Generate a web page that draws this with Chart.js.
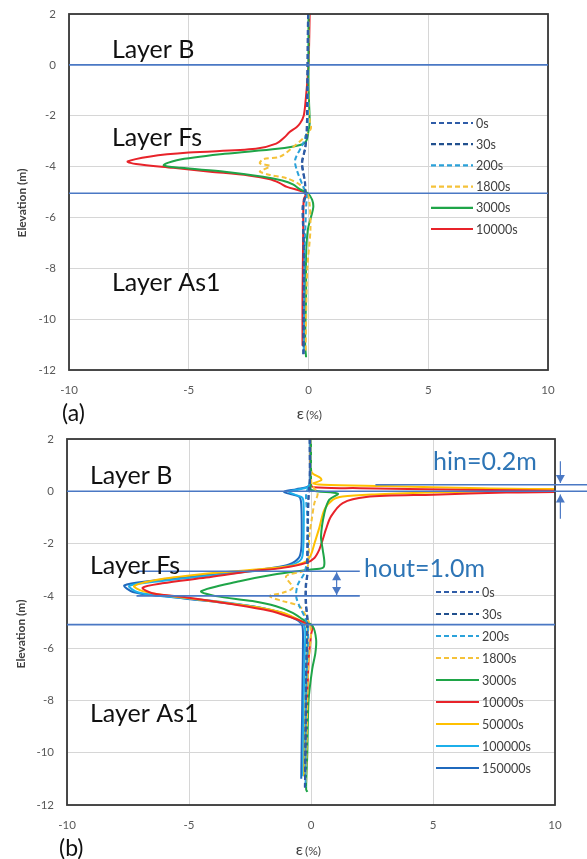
<!DOCTYPE html>
<html><head><meta charset="utf-8">
<script src="https://cdn.jsdelivr.net/npm/chart.js@4.4.1/dist/chart.umd.min.js"></script>
<style>
html,body{margin:0;padding:0;background:#fff;width:587px;height:859px;overflow:hidden}
.p{position:absolute;left:0}
canvas{display:block}
</style></head><body>
<div class="p" style="top:0"><canvas id="ca" width="587" height="430" style="width:587px;height:430px"></canvas></div>
<div class="p" style="top:430px"><canvas id="cb" width="587" height="429" style="width:587px;height:429px"></canvas></div>
<script>
// ---------- DATA ----------
const xTicks = [-10, -5, 0, 5, 10];
const yTicks = [2, 0, -2, -4, -6, -8, -10, -12];
const labelsA = ['0s', '30s', '200s', '1800s', '3000s', '10000s'];
const labelsB = ['0s', '30s', '200s', '1800s', '3000s', '10000s', '50000s', '100000s', '150000s'];
const layerNames = ['Layer B', 'Layer Fs', 'Layer As1'];
const boundsA = [0, -5.05];
const boundsB = [0, -5.1];
const hinLevels = [0.25, 0];
const houtLevels = [-3.06, -4.0];

// panel (a): [strain %, elevation m]
const a0 = [[-0.02,2],[-0.05,-1],[-0.08,-2.8],[-0.15,-3.3],[-0.28,-3.87],[-0.15,-4.65],[-0.15,-5.2],[-0.25,-5.6],[-0.2,-7],[-0.2,-9],[-0.2,-11.4]];
const a30 = [[-0.02,2],[-0.05,-1],[-0.08,-2.8],[-0.14,-3.3],[-0.26,-3.87],[-0.14,-4.65],[-0.14,-5.2],[-0.22,-5.6],[-0.2,-7],[-0.2,-9],[-0.22,-11.4]];
const a200 = [[0,2],[-0.02,-1],[-0.05,-2.5],[-0.22,-3.08],[-0.56,-3.74],[-0.49,-4.13],[-0.22,-4.79],[-0.08,-5.1],[-0.1,-5.6],[-0.15,-7],[-0.18,-9],[-0.2,-11.3]];
const a1800 = [[0,2],[0,-1.5],[0.05,-2.2],[0.1,-2.5],[-0.15,-2.82],[-0.7,-3.28],[-1.19,-3.61],[-1.89,-3.71],[-2.03,-3.87],[-1.61,-3.98],[-1.89,-4.13],[-2.03,-4.2],[-1.61,-4.33],[-0.91,-4.46],[-0.35,-4.72],[-0.05,-5.05],[0.05,-5.5],[0.08,-6.5],[-0.05,-8],[-0.1,-10],[-0.12,-11.3]];
const a3000 = [[0,2],[0,-0.6],[0.02,-1.4],[0.05,-2.3],[0,-2.6],[-0.1,-3.0],[-0.35,-3.15],[-1.3,-3.3],[-3.5,-3.5],[-5.5,-3.75],[-6.05,-3.95],[-5.35,-4.05],[-3.5,-4.2],[-1.9,-4.4],[-1.1,-4.55],[-0.65,-4.7],[-0.35,-4.9],[-0.03,-5.05],[0.15,-5.3],[0.2,-5.6],[0.1,-6.0],[-0.03,-6.5],[-0.1,-7.5],[-0.1,-9],[-0.14,-11],[-0.1,-11.5]];
const a10000 = [[0.05,2],[0,0],[-0.12,-1.4],[-0.2,-2],[-0.35,-2.3],[-0.5,-2.45],[-0.8,-2.65],[-1.0,-2.85],[-1.35,-3.1],[-2.2,-3.3],[-5,-3.45],[-6.6,-3.6],[-7.55,-3.8],[-7.2,-3.9],[-5.65,-4.05],[-4.1,-4.2],[-2.5,-4.35],[-1.6,-4.5],[-1.2,-4.65],[-0.9,-4.8],[-0.35,-4.95],[-0.1,-5.05],[-0.2,-5.3],[-0.22,-6.6],[-0.25,-9.2],[-0.25,-11.05]];

// panel (b)
const b0 = [[-0.05,2],[-0.05,0.3],[-0.1,-0.2],[-0.12,-1],[-0.14,-2.5],[-0.14,-3.12],[-0.2,-3.63],[-0.2,-4.27],[-0.14,-4.91],[-0.15,-5.5],[-0.2,-7],[-0.22,-9],[-0.25,-11.4]];
const b30 = [[-0.05,2],[-0.05,0.3],[-0.1,-0.2],[-0.13,-1],[-0.15,-2.5],[-0.15,-3.12],[-0.22,-3.63],[-0.22,-4.27],[-0.15,-4.91],[-0.16,-5.5],[-0.2,-7],[-0.22,-9],[-0.25,-11.3]];
const b200 = [[-0.02,2],[-0.05,0.3],[-0.2,-0.1],[-0.15,-1],[-0.15,-2.5],[-0.27,-3.12],[-0.54,-3.57],[-0.61,-4.01],[-0.47,-4.4],[-0.27,-4.78],[-0.15,-5.1],[-0.12,-5.5],[-0.18,-7],[-0.22,-9],[-0.22,-11.3]];
const b1800 = [[0,2],[0.02,0.3],[0.27,-0.1],[0.14,-0.45],[0.03,-1.08],[-0.07,-1.72],[-0.1,-2.48],[-0.2,-3.0],[-1.02,-3.25],[-0.75,-3.69],[-1.16,-3.88],[-1.7,-4.01],[-1.16,-4.2],[-0.47,-4.4],[-0.2,-4.78],[-0.05,-5.1],[0,-5.5],[-0.1,-6.5],[-0.15,-8],[-0.2,-11.2]];
const b3000 = [[0,2],[0,0.3],[0,0.05],[1.1,-0.09],[0.75,-0.32],[0.55,-0.83],[0.41,-1.72],[0.48,-2.23],[0.55,-2.74],[0.48,-2.93],[-0.07,-3.0],[-1.57,-3.19],[-2.93,-3.44],[-4.5,-3.82],[-3.9,-4.01],[-2.4,-4.2],[-1.43,-4.4],[-0.75,-4.65],[-0.34,-4.9],[0.07,-5.16],[0.21,-5.67],[0.18,-6.18],[0.05,-6.8],[-0.1,-8],[-0.15,-10],[-0.2,-11.4],[-0.15,-11.5]];
const b10000 = [[0,2],[0,0.3],[0.1,0.15],[2,0.12],[6,0.06],[12,0.0],[8,-0.05],[5,-0.13],[2.26,-0.22],[1.3,-0.45],[0.82,-0.96],[0.61,-1.46],[0.48,-1.85],[0.34,-2.23],[0.14,-2.55],[-0.2,-2.74],[-1.16,-2.93],[-2.5,-3.06],[-4.3,-3.3],[-6.1,-3.52],[-6.9,-3.69],[-6.5,-3.9],[-5.1,-4.06],[-3.2,-4.32],[-1.7,-4.57],[-0.8,-4.83],[-0.26,-5.02],[0.05,-5.15],[0,-5.5],[-0.1,-6.5],[-0.18,-9.1],[-0.21,-11.0]];
const b50000 = [[0,2],[0.02,0.75],[0.4,0.5],[0.42,0.42],[0.1,0.3],[0.5,0.25],[3,0.2],[7,0.12],[12,0.05],[7,-0.01],[4.9,-0.05],[2.6,-0.12],[1.3,-0.2],[0.9,-0.32],[0.55,-0.7],[0.34,-1.4],[0.15,-1.97],[0,-2.42],[-0.2,-2.68],[-0.9,-2.87],[-2.25,-2.99],[-4.6,-3.18],[-6.3,-3.38],[-7.25,-3.62],[-6.9,-3.82],[-5.8,-4.0],[-3.9,-4.22],[-2.2,-4.44],[-1.2,-4.64],[-0.7,-4.82],[-0.3,-5.02],[-0.15,-5.2],[-0.15,-6],[-0.22,-8],[-0.28,-10.9]];
const b100000 = [[-0.03,2],[-0.03,0.6],[-0.08,0.2],[-0.5,0.07],[-0.9,-0.02],[-0.6,-0.15],[-0.35,-0.25],[-0.3,-0.6],[-0.3,-1.5],[-0.32,-2.2],[-0.4,-2.6],[-0.8,-2.82],[-1.5,-2.95],[-2.5,-3.07],[-4.6,-3.27],[-6.3,-3.45],[-7.45,-3.62],[-7.1,-3.86],[-6.0,-4.02],[-4.0,-4.2],[-2.3,-4.42],[-1.3,-4.62],[-0.8,-4.8],[-0.4,-5.0],[-0.25,-5.2],[-0.25,-6],[-0.3,-8],[-0.33,-10.9]];
const b150000 = [[-0.05,2],[-0.05,0.6],[-0.1,0.2],[-0.6,0.08],[-1.1,-0.02],[-0.8,-0.12],[-0.47,-0.22],[-0.4,-0.5],[-0.38,-1.5],[-0.4,-2.2],[-0.5,-2.55],[-0.9,-2.8],[-1.6,-2.93],[-2.6,-3.05],[-4.8,-3.25],[-6.5,-3.42],[-7.65,-3.6],[-7.3,-3.85],[-6.2,-4.0],[-4.2,-4.2],[-2.4,-4.4],[-1.4,-4.6],[-0.9,-4.78],[-0.5,-4.97],[-0.35,-5.16],[-0.33,-5.9],[-0.35,-7.5],[-0.38,-9.5],[-0.4,-11.0]];

// ---------- STYLE ----------
const FONT = 'Lato, "Liberation Sans", sans-serif';
const colors = {
  '0s':'#2F5CA8','30s':'#21508E','200s':'#2BA2DA','1800s':'#F5C23A','3000s':'#1FA548',
  '10000s':'#E8232A','50000s':'#FFC000','100000s':'#1CAFEA','150000s':'#1F69BD'
};
const dashed = {'0s':true,'30s':true,'200s':true,'1800s':true};
const LINE_BLUE = '#4A78C4';

function ds(label, pts) {
  return {
    label, data: pts.map(p => ({x: p[0], y: p[1]})),
    borderColor: colors[label], backgroundColor: colors[label],
    borderWidth: 2, borderDash: dashed[label] ? [5, 3] : [],
    showLine: true, pointRadius: 0, pointHoverRadius: 0, tension: 0.3, fill: false
  };
}

const overlay = {
  id: 'overlay',
  afterDatasetsDraw(chart, args, o) {
    const ctx = chart.ctx, xs = chart.scales.x, ys = chart.scales.y, ca = chart.chartArea;
    const X = v => xs.getPixelForValue(v), Y = v => ys.getPixelForValue(v);
    ctx.save();
    ctx.strokeStyle = '#383838'; ctx.lineWidth = 1.8;
    ctx.strokeRect(ca.left, ca.top, ca.right - ca.left, ca.bottom - ca.top);
    ctx.strokeStyle = LINE_BLUE; ctx.lineWidth = 1.6; ctx.setLineDash([]);
    for (const l of o.lines) {
      const x1 = l.x1 === undefined ? ca.left : X(l.x1);
      const x2 = l.x2 === undefined ? ca.right : (l.x2 === 'edge' ? chart.width : X(l.x2));
      ctx.beginPath(); ctx.moveTo(x1, Y(l.y)); ctx.lineTo(x2, Y(l.y)); ctx.stroke();
    }
    ctx.fillStyle = LINE_BLUE;
    for (const a of o.arrows) {
      const x = X(a.x), y1 = Y(a.y1), y2 = Y(a.y2);
      ctx.lineWidth = 1.2;
      ctx.beginPath(); ctx.moveTo(x, y1); ctx.lineTo(x, y2); ctx.stroke();
      for (const h of a.heads) {
        const yt = h === 'start' ? y1 : y2;
        const dir = h === 'start' ? Math.sign(y1 - y2) : Math.sign(y2 - y1);
        ctx.beginPath(); ctx.moveTo(x, yt); ctx.lineTo(x - 4.5, yt - dir * 8); ctx.lineTo(x + 4.5, yt - dir * 8);
        ctx.closePath(); ctx.fill();
      }
    }
    const lg = o.legend;
    chart.data.datasets.forEach((d, i) => {
      const y = lg.y0 + i * lg.dy;
      ctx.strokeStyle = d.borderColor; ctx.lineWidth = 2.2; ctx.setLineDash(d.borderDash);
      ctx.beginPath(); ctx.moveTo(lg.x1, y); ctx.lineTo(lg.x2, y); ctx.stroke();
      ctx.setLineDash([]);
      ctx.fillStyle = '#404040'; ctx.font = '12.5px ' + FONT; ctx.textAlign = 'left'; ctx.textBaseline = 'middle';
      ctx.fillText(d.label, lg.tx, y + 0.5);
    });
    for (const t of o.texts) {
      ctx.save();
      ctx.fillStyle = t.color || '#111'; ctx.font = t.font; ctx.textAlign = t.align || 'left';
      ctx.textBaseline = t.baseline || 'alphabetic';
      ctx.translate(t.x, t.y); if (t.rot) ctx.rotate(t.rot);
      ctx.fillText(t.t, 0, 0);
      ctx.restore();
    }
    ctx.restore();
  }
};

function makeChart(id, datasets, padRight, padTop, xAxisH, ov) {
  return new Chart(document.getElementById(id), {
    type: 'scatter',
    data: { datasets },
    plugins: [overlay],
    options: {
      responsive: false, devicePixelRatio: 1, animation: false,
      layout: { padding: { left: 0, right: padRight, top: padTop, bottom: 0 } },
      plugins: { legend: { display: false }, tooltip: { enabled: false }, overlay: ov },
      scales: {
        x: {
          type: 'linear', min: -10, max: 10,
          afterBuildTicks: s => { s.ticks = xTicks.map(v => ({value: v})); },
          afterFit: s => { s.height = xAxisH; s.paddingLeft = 0; s.paddingRight = 0; s.paddingTop = 0; s.paddingBottom = 0; },
          grid: { color: '#D6D6D6', lineWidth: 1, drawTicks: false },
          border: { display: false },
          ticks: { padding: 13, color: '#595959', font: { family: FONT, size: 11.5 } }
        },
        y: {
          type: 'linear', min: -12, max: 2,
          afterBuildTicks: s => { s.ticks = yTicks.map(v => ({value: v})); },
          afterFit: s => { s.width = ov.yAxisW; s.paddingLeft = 0; s.paddingRight = 0; s.paddingTop = 0; s.paddingBottom = 0; },
          grid: { color: '#D6D6D6', lineWidth: 1, drawTicks: false },
          border: { display: false },
          ticks: { padding: 13, color: '#595959', font: { family: FONT, size: 11.5 } }
        }
      }
    }
  });
}

const LAYER_FONT = '25px ' + FONT;
const H_FONT = '25px ' + FONT;

// panel (a)
makeChart('ca', [ds('0s', a0), ds('30s', a30), ds('200s', a200), ds('1800s', a1800), ds('3000s', a3000), ds('10000s', a10000)],
  39, 14, 60, {
    yAxisW: 69,
    lines: boundsA.map(v => ({y: v})),
    arrows: [],
    legend: { x1: 431, x2: 473, tx: 476, y0: 123, dy: 21.2 },
    texts: [
      {t: layerNames[0], x: 112, y: 58, font: LAYER_FONT},
      {t: layerNames[1], x: 112, y: 146, font: LAYER_FONT},
      {t: layerNames[2], x: 112, y: 291, font: LAYER_FONT},
      {t: '(a)', x: 62, y: 421, font: '23px ' + FONT},
      {t: 'Elevation (m)', x: 22, y: 203, font: 'bold 12px ' + FONT, color: '#404040', align: 'center', baseline: 'middle', rot: -Math.PI / 2},
      {t: 'ε', x: 304, y: 419, font: '16px ' + FONT, color: '#404040', align: 'right'},
      {t: '(%)', x: 306, y: 419, font: '12px ' + FONT, color: '#404040'}
    ]
  });

// panel (b)
makeChart('cb', [ds('0s', b0), ds('30s', b30), ds('200s', b200), ds('1800s', b1800), ds('3000s', b3000), ds('10000s', b10000), ds('50000s', b50000), ds('100000s', b100000), ds('150000s', b150000)],
  32, 9, 54, {
    yAxisW: 67,
    lines: [
      {y: boundsB[0], x2: 'edge'}, {y: boundsB[1]},
      {y: hinLevels[0], x1: 2.64, x2: 'edge'},
      {y: houtLevels[0], x1: -7.15, x2: 2.0}, {y: houtLevels[1], x1: -7.15, x2: 2.0}
    ],
    arrows: [
      {x: 1.05, y1: -3.1, y2: -3.97, heads: ['start', 'end']},
      {x: 10.22, y1: 1.15, y2: 0.32, heads: ['end']},
      {x: 10.22, y1: -1.05, y2: -0.12, heads: ['end']}
    ],
    legend: { x1: 436, x2: 479, tx: 482, y0: 162, dy: 22 },
    texts: [
      {t: layerNames[0], x: 90, y: 54, font: LAYER_FONT},
      {t: layerNames[1], x: 90, y: 144, font: LAYER_FONT},
      {t: layerNames[2], x: 90, y: 292, font: LAYER_FONT},
      {t: 'hin=0.2m', x: 433, y: 40, font: H_FONT, color: '#2E75B6'},
      {t: 'hout=1.0m', x: 364, y: 147, font: H_FONT, color: '#2E75B6'},
      {t: '(b)', x: 59, y: 426, font: '23px ' + FONT},
      {t: 'Elevation (m)', x: 21, y: 204, font: 'bold 12px ' + FONT, color: '#404040', align: 'center', baseline: 'middle', rot: -Math.PI / 2},
      {t: 'ε', x: 303, y: 425, font: '16px ' + FONT, color: '#404040', align: 'right'},
      {t: '(%)', x: 305, y: 425, font: '12px ' + FONT, color: '#404040'}
    ]
  });
</script>
</body></html>
